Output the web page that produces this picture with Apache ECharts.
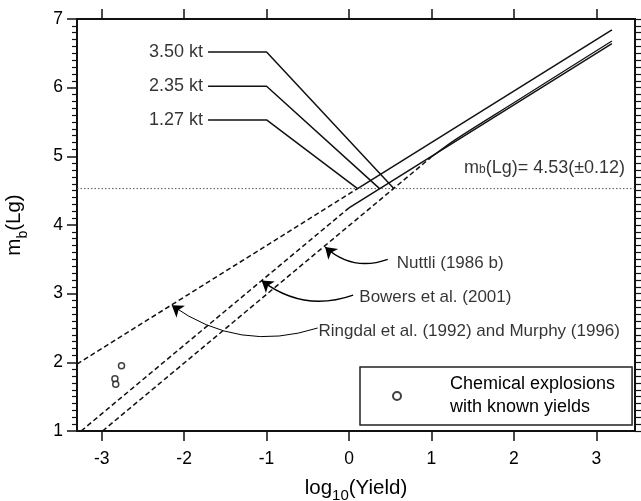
<!DOCTYPE html>
<html>
<head>
<meta charset="utf-8">
<script src="https://cdn.jsdelivr.net/npm/echarts@6/dist/echarts.min.js"></script>
<style>
html,body{margin:0;padding:0;background:#fff;}
#chart{width:641px;height:501px;}
</style>
</head>
<body>
<div id="chart"></div>
<script>
// ---------- data ----------
const xTickValues = [-3, -2, -1, 0, 1, 2, 3];
const xMin = -3.3, xMax = 3.47;
const yMin = 1, yMax = 7;

const ringdalDashed = [[-3.3, 1.975], [0.104, 4.53]];
const ringdalSolid = [[0.104, 4.53], [3.19, 6.84]];
const bowersDashed = [[-3.25, 1.0], [0.0, 4.25]];
const bowersSolid = [[0.0, 4.25], [3.19, 6.64]];
const nuttliDashed = [[-2.99, 1.0], [1.0, 4.99]];
const nuttliSolid = [[1.0, 4.99], [1.3, 5.25], [2.0, 5.78], [2.5, 6.16], [3.19, 6.68]];

const mbValue = 4.53;
const mbLine = [[xMin, mbValue], [xMax, mbValue]];

const yieldLabels = ['3.50 kt', '2.35 kt', '1.27 kt'];
const leader350 = [[-1.71, 6.52], [-1.0, 6.52], [0.544, 4.53]];
const leader235 = [[-1.71, 6.02], [-1.0, 6.02], [0.371, 4.53]];
const leader127 = [[-1.71, 5.53], [-1.0, 5.53], [0.104, 4.53]];

const chemicalExplosions = [[-2.76, 1.95], [-2.84, 1.76], [-2.83, 1.68]];

const citationNames = ['Nuttli (1986 b)', 'Bowers et al. (2001)', 'Ringdal et al. (1992) and Murphy (1996)'];
const citationAnchors = [[0.58, 3.44], [0.125, 2.94], [-0.37, 2.45]];
const arrowNuttli = [[0.47, 3.50], [-0.29, 3.68]];
const arrowBowers = [[0.05, 2.98], [-1.06, 3.19]];
const arrowRingdal = [[-0.38, 2.50], [-2.15, 2.83]];

const mbLabelAnchor = [3.35, 4.83];
const legendName = 'Chemical explosions\nwith known yields';

// ---------- chart ----------
const ink = '#111';
const FONT = '"Liberation Sans", Arial, Helvetica, sans-serif';
const chart = echarts.init(document.getElementById('chart'), null, {renderer: 'canvas'});

function lineSeries(data, dashed) {
  return {
    type: 'line', data: data, showSymbol: false, symbol: 'none', silent: true,
    lineStyle: {color: ink, width: 1.5, type: dashed ? [5, 3] : 'solid'},
    z: 3
  };
}

const leaders = [leader350, leader235, leader127];

const series = [
  lineSeries(ringdalDashed, true),
  lineSeries(ringdalSolid, false),
  lineSeries(bowersDashed, true),
  lineSeries(bowersSolid, false),
  lineSeries(nuttliDashed, true),
  Object.assign(lineSeries(nuttliSolid, false), {smooth: 0.3, lineStyle: {color: ink, width: 1.3}}),
  {
    type: 'line', data: mbLine, showSymbol: false, symbol: 'none', silent: true,
    lineStyle: {color: '#555', width: 1, type: [1.5, 2]}, z: 2
  }
];
leaders.forEach(function (l) { series.push(lineSeries(l, false)); });

// yield labels
series.push({
  type: 'scatter', silent: true, symbolSize: 0,
  data: leaders.map(function (l, i) { return {name: yieldLabels[i], value: l[0]}; }),
  label: {show: true, position: 'left', distance: 5, formatter: '{b}', color: '#000', fontSize: 18, fontFamily: FONT}
});
// citation labels
series.push({
  type: 'scatter', silent: true, symbolSize: 0,
  data: citationAnchors.map(function (p, i) { return {name: citationNames[i], value: p}; }),
  label: {show: true, position: 'right', distance: 0, formatter: '{b}', color: '#000', fontSize: 17, fontFamily: FONT}
});
// mb label
series.push({
  type: 'scatter', silent: true, symbolSize: 0,
  data: [{name: 'mb', value: mbLabelAnchor}],
  label: {
    show: true, position: 'left', distance: 0,
    formatter: 'm{s|b}(Lg)= ' + mbValue.toFixed(2) + '(±0.12)',
    color: '#000', fontSize: 18, fontFamily: FONT,
    rich: {s: {fontSize: 12, fontFamily: FONT, color: '#000', verticalAlign: 'bottom', padding: [0, 0, 1, 0]}}
  }
});
// arrows
series.push({
  type: 'lines', coordinateSystem: 'cartesian2d', silent: true, z: 4,
  symbol: ['none', 'arrow'], symbolSize: [5, 11],
  lineStyle: {color: '#000', width: 1.4, opacity: 1},
  data: [
    {coords: arrowNuttli, lineStyle: {curveness: 0.3}},
    {coords: arrowBowers, lineStyle: {curveness: 0.27}},
    {coords: arrowRingdal, lineStyle: {curveness: 0.25, width: 1}}
  ]
});
// chemical explosions
series.push({
  type: 'scatter', name: legendName, data: chemicalExplosions, symbol: 'circle', symbolSize: 6,
  itemStyle: {color: '#fff', borderColor: '#111', borderWidth: 1.5}, z: 5
});

const axisLineStyle = {show: true, onZero: false, lineStyle: {color: ink, width: 2}};

const option = {
  animation: false,
  backgroundColor: '#fff',
  grid: {left: 77, right: 6, top: 19, bottom: 70, containLabel: false, outerBoundsMode: 'none'},
  legend: {
    show: true, data: [legendName], left: 360, top: 367, orient: 'vertical',
    padding: [6, 17, 6, 32], itemWidth: 8, itemHeight: 8,
    borderColor: '#222', borderWidth: 1.5, borderRadius: 0, backgroundColor: '#fff',
    selectedMode: false,
    textStyle: {color: '#000', fontSize: 18, fontFamily: FONT, lineHeight: 23, padding: [0, 0, 0, 44]}
  },
  xAxis: [
    {
      type: 'value', position: 'bottom', min: xMin, max: xMax,
      axisLine: axisLineStyle,
      axisTick: {show: true, inside: false, length: 10, customValues: xTickValues, lineStyle: {color: ink, width: 1.5}},
      axisLabel: {show: true, customValues: xTickValues, margin: 19, color: '#000', fontSize: 17.5, fontFamily: FONT,
        formatter: function (v) { return String(v); }},
      splitLine: {show: false},
      name: 'log{s|10}(Yield)', nameLocation: 'middle', nameGap: 47,
      nameTextStyle: {color: '#000', fontSize: 20.5, fontFamily: FONT,
        rich: {s: {fontSize: 15, fontFamily: FONT, color: '#000', verticalAlign: 'bottom', padding: [0, 0, -4, 0]}}}
    },
    {
      type: 'value', position: 'top', min: xMin, max: xMax,
      axisLine: axisLineStyle,
      axisTick: {show: true, inside: false, length: 10, customValues: xTickValues, lineStyle: {color: ink, width: 1.5}},
      axisLabel: {show: false},
      splitLine: {show: false}
    }
  ],
  yAxis: [
    {
      type: 'value', position: 'left', min: yMin, max: yMax, interval: 1,
      axisLine: axisLineStyle,
      axisTick: {show: true, inside: false, length: 10, lineStyle: {color: ink, width: 1.5}},
      minorTick: {show: true, splitNumber: 10, length: 5, lineStyle: {color: ink, width: 1.2}},
      axisLabel: {show: true, margin: 14, color: '#000', fontSize: 17.5, fontFamily: FONT},
      splitLine: {show: false}, minorSplitLine: {show: false},
      name: 'm{s|b}(Lg)', nameLocation: 'middle', nameGap: 52, nameRotate: 90,
      nameTextStyle: {color: '#000', fontSize: 20.5, fontFamily: FONT,
        rich: {s: {fontSize: 14, fontFamily: FONT, color: '#000', verticalAlign: 'bottom', padding: [0, 0, -5, 0]}}}
    },
    {
      type: 'value', position: 'right', min: yMin, max: yMax, interval: 1,
      axisLine: axisLineStyle,
      axisTick: {show: true, inside: false, length: 7, lineStyle: {color: ink, width: 1.2}},
      minorTick: {show: true, splitNumber: 10, length: 7, lineStyle: {color: ink, width: 1.2}},
      axisLabel: {show: false},
      splitLine: {show: false}, minorSplitLine: {show: false}
    }
  ],
  series: series
};
chart.setOption(option);
</script>
</body>
</html>
